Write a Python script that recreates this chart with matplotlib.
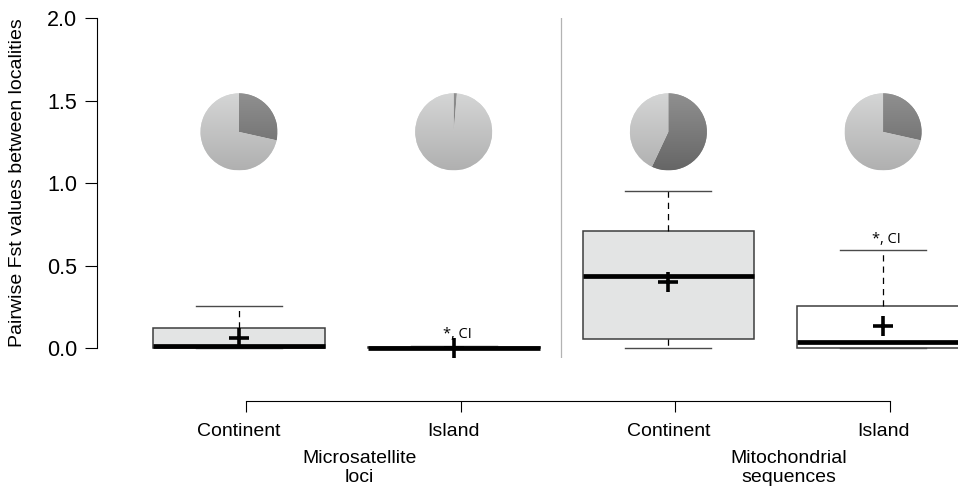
import matplotlib

matplotlib.use("Agg")
import matplotlib.pyplot as plt
import numpy as np
from matplotlib.colors import LinearSegmentedColormap

plt.rcParams["font.family"] = ["Liberation Sans", "DejaVu Sans"]

# Pairwise Fst summaries per marker type and locality
groups = ["Continent", "Island", "Continent", "Island"]
marker_types = ["Microsatellite\nloci", "Mitochondrial\nsequences"]
positions = [1, 2, 3, 4]

whisker_low = [0.0, 0.0, 0.0, 0.0]
quartile_1 = [0.0, 0.0, 0.055, 0.0]
medians = [0.01, 0.0, 0.437, 0.037]
quartile_3 = [0.123, 0.004, 0.71, 0.255]
whisker_high = [0.255, 0.015, 0.95, 0.593]
means = [0.062, 0.0, 0.40, 0.135]
significant = [False, True, False, True]

# share of the darker slice in each pie
pie_dark_share = [0.285, 0.013, 0.57, 0.285]

BOX_FACES = ["#e3e4e4", "#e3e4e4", "#e3e4e4", "#ffffff"]
PIE_LIGHT = ("#d5d6d6", "#b0b0b0")
PIE_DARK = ("#909090", "#666666")

W, H = 958, 490
fig = plt.figure(figsize=(W / 100, H / 100), dpi=100)
ax = fig.add_axes([97 / W, 1 - 358 / H, (W - 97) / W, 340 / H])
ax.set_xlim(0.3386, 4.349)
ax.set_ylim(-0.06, 2.0)

stats = [
    dict(whislo=lo, q1=a, med=m, q3=b, whishi=hi, mean=mu)
    for lo, a, m, b, hi, mu in zip(whisker_low, quartile_1, medians, quartile_3, whisker_high, means)
]
bp = ax.bxp(
    stats,
    positions=positions,
    widths=0.8,
    capwidths=0.4,
    patch_artist=True,
    showmeans=True,
    showfliers=False,
    boxprops=dict(edgecolor="#3d3d3d", linewidth=1.1),
    medianprops=dict(color="black", linewidth=3.4, solid_capstyle="butt"),
    whiskerprops=dict(color="black", linewidth=0.9, linestyle=(0, (5, 4))),
    capprops=dict(color="#4a4a4a", linewidth=1.0),
    meanprops=dict(marker="+", markersize=15, markeredgewidth=2.6,
                   markeredgecolor="black", zorder=5),
)
for patch, face in zip(bp["boxes"], BOX_FACES):
    patch.set_facecolor(face)

for pos, hi, sig in zip(positions, whisker_high, significant):
    if sig:
        ax.annotate("*, CI", xy=(pos, hi), xytext=(2.5, 5.5), textcoords="offset points",
                    ha="center", va="baseline", fontsize=10.5,
                    family=["Open Sans", "DejaVu Sans"])

ax.axvline(2.5, color="#b3b3b3", lw=0.9)

for side in ("top", "right", "bottom"):
    ax.spines[side].set_visible(False)
ax.spines["left"].set_bounds(0, 2)
ax.spines["left"].set_linewidth(0.8)
ax.set_yticks([0, 0.5, 1.0, 1.5, 2.0], ["0.0", "0.5", "1.0", "1.5", "2.0"])
ax.tick_params(axis="y", length=8.6, width=0.8, labelsize=15.5, pad=5.5)
ax.set_xticks(positions, groups)
ax.tick_params(axis="x", length=0, labelsize=14, pad=47)
ax.text(-79 / 861, 1.0, "Pairwise Fst values between localities",
        transform=ax.get_yaxis_transform(), rotation=90,
        ha="center", va="center", fontsize=14)

# pies showing the split of pairwise comparisons above each box
pie_level = 1.31
radius_px = 38.5
for pos, share in zip(positions, pie_dark_share):
    cx, cy = ax.transData.transform((pos, pie_level))
    pax = fig.add_axes([(cx - radius_px) / W, (cy - radius_px) / H,
                        2 * radius_px / W, 2 * radius_px / H])
    wedges, _ = pax.pie([share, 1 - share], startangle=90, counterclock=False,
                        colors=[PIE_DARK[0], PIE_LIGHT[0]], wedgeprops=dict(linewidth=0))
    grad = np.linspace(0, 1, 256).reshape(-1, 1)
    for wedge, shades in zip(wedges, [PIE_DARK, PIE_LIGHT]):
        cmap = LinearSegmentedColormap.from_list("shade", list(shades))
        im = pax.imshow(grad, extent=(-1, 1, -1, 1), origin="upper", cmap=cmap,
                        aspect="auto", zorder=3)
        im.set_clip_path(wedge)
    pax.set_xlim(-1, 1)
    pax.set_ylim(-1, 1)
    pax.axis("off")

# bracket axis joining the four localities
axb = fig.add_axes([(97 + 7) / W, 1 - 401 / H, (W - 97) / W, 0.01])
axb.set_xlim(ax.get_xlim())
axb.patch.set_visible(False)
for side in ("top", "left", "right"):
    axb.spines[side].set_visible(False)
axb.spines["bottom"].set_bounds(1, 4)
axb.spines["bottom"].set_linewidth(0.8)
axb.set_yticks([])
axb.set_xticks(positions, [""] * len(positions))
axb.tick_params(axis="x", length=8, width=0.8, direction="out")

for x, label in zip([1.5, 3.5], marker_types):
    axb.annotate(label, xy=(x, 0), xycoords=("data", "axes fraction"),
                 xytext=(4.5, -35), textcoords="offset points",
                 ha="center", va="top", fontsize=14, linespacing=1.15)

fig.savefig("out.png", dpi=100)
